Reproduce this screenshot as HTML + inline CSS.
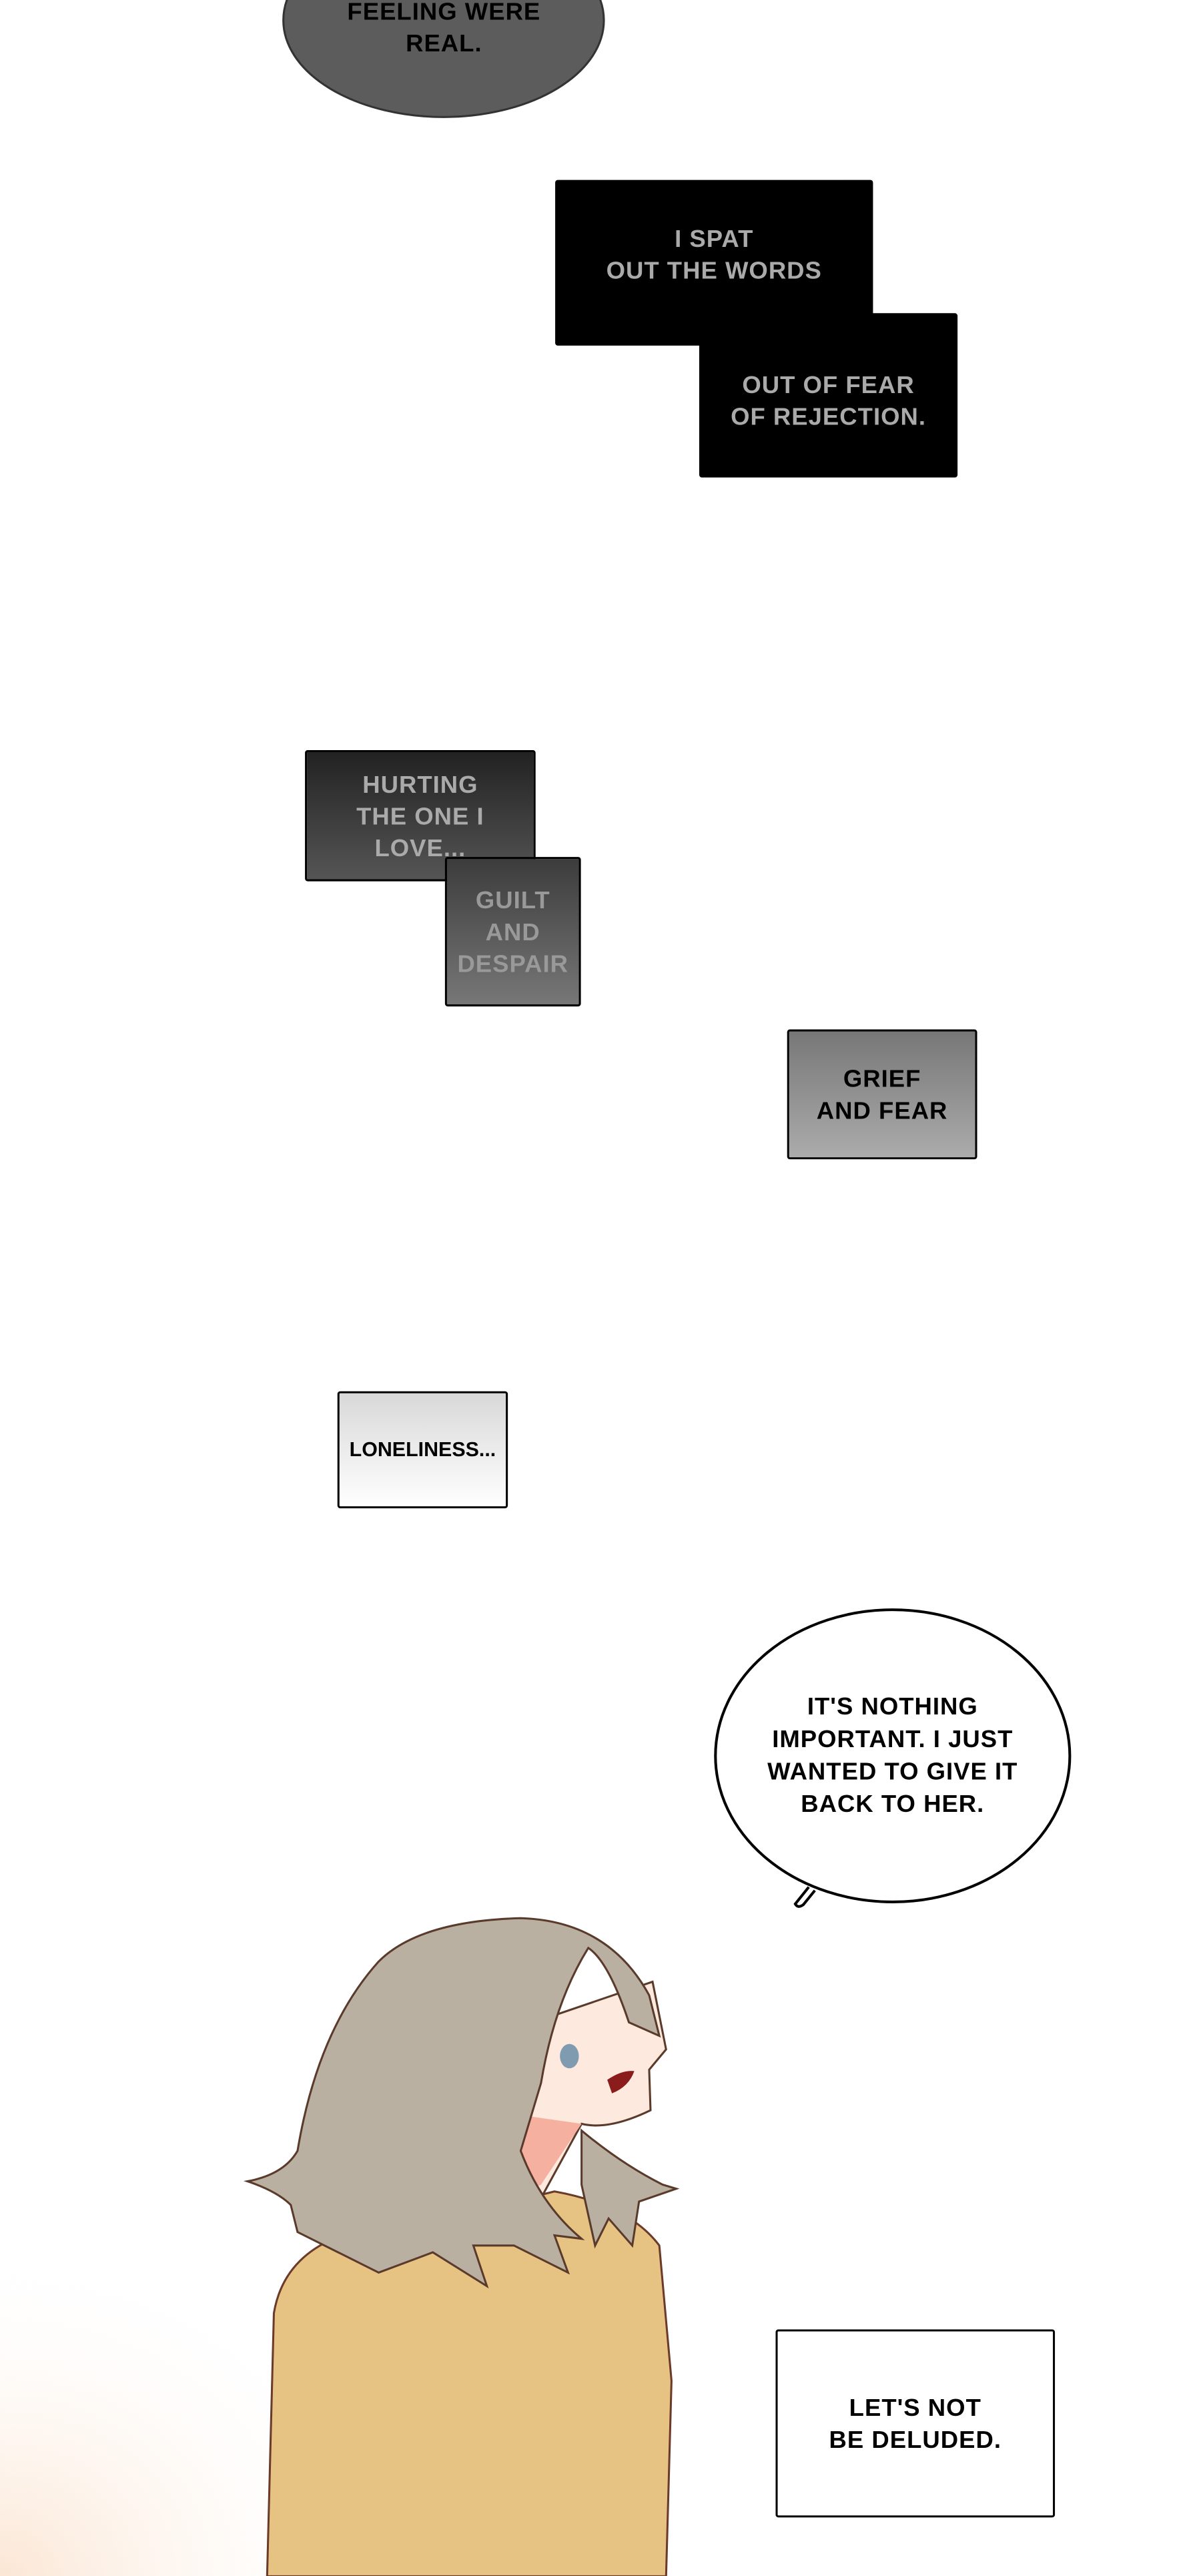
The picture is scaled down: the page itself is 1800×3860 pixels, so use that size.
<!DOCTYPE html>
<html><head><meta charset="utf-8"><style>
html,body{margin:0;padding:0}
body{width:1800px;height:3809px;position:relative;overflow:hidden;background:#fff;font-family:"Liberation Sans Narrow","Liberation Sans",sans-serif;font-weight:bold}
#w{position:absolute;left:0;top:0;width:1800px;height:3809px;transform:scale(1.0135);transform-origin:0 0}
.t{position:absolute;text-align:center;font-size:36px;line-height:47px;letter-spacing:1px;display:flex;align-items:center;justify-content:center;box-sizing:border-box}
.b{border:3px solid #000;border-radius:4px}
</style></head><body><div id="w">
<svg width="1800" height="3809" style="position:absolute;left:0;top:0">
<defs>
<radialGradient id="peach" cx="0" cy="1" r="1"><stop offset="0" stop-color="#fbe6d4"/><stop offset="1" stop-color="#fff" stop-opacity="0"/></radialGradient>
</defs>
<rect x="0" y="3300" width="600" height="509" fill="url(#peach)"/>
<ellipse cx="656" cy="30" rx="237" ry="143" fill="#5c5c5c" stroke="#333" stroke-width="3"/>
<ellipse cx="1320" cy="2596" rx="262" ry="216" fill="#fff" stroke="#000" stroke-width="4"/>
<path d="M1196,2790 L1176,2815 Q1180,2822 1188,2816 L1205,2795" fill="#fff" stroke="#000" stroke-width="4"/>
<!-- girl -->
<path d="M395,3809 L405,3420 Q420,3330 520,3300 L700,3270 L820,3240 Q930,3260 975,3320 L993,3520 L985,3809 Z" fill="#e6c383" stroke="#6b3a2a" stroke-width="3"/>
<path d="M760,3000 L965,2930 L985,3030 L960,3060 L962,3120 Q900,3150 860,3140 L800,3250 L740,3270 L700,3100 Z" fill="#fde9dd" stroke="#5a3a2a" stroke-width="3"/>
<path d="M720,3120 L860,3140 L800,3230 L740,3260 Z" fill="#f6b0a0"/>
<path d="M366,3225 Q420,3215 440,3180 Q470,3000 560,2900 Q620,2840 770,2836 Q900,2840 960,2950 L975,3010 L930,2990 Q900,2900 870,2880 Q820,2960 800,3080 L770,3180 Q800,3260 860,3310 L820,3305 L840,3360 L760,3320 L700,3320 L720,3380 L640,3330 L560,3360 L500,3330 L440,3300 L430,3260 Q410,3240 366,3225 Z" fill="#b9b0a2" stroke="#5a3a2a" stroke-width="3"/>
<path d="M860,3150 Q920,3200 980,3230 L1000,3236 L945,3255 L935,3320 L900,3280 L880,3320 L860,3230 Z" fill="#b9b0a2" stroke="#5a3a2a" stroke-width="3"/>
<ellipse cx="842" cy="3040" rx="14" ry="18" fill="#7f9bb0"/>
<path d="M898,3075 Q920,3060 938,3062 Q930,3085 905,3095 Z" fill="#8a1c1c"/>
</svg>
<div class="t" style="left:420px;top:-10px;width:473px;height:100px;color:#000">FEELING WERE<br>REAL.</div>
<div class="t" style="left:821px;top:266px;width:470px;height:245px;background:#000;border-radius:4px;color:#aaa;padding-bottom:25px">I SPAT<br>OUT THE WORDS</div>
<div class="t" style="left:1034px;top:463px;width:382px;height:243px;background:#000;border-radius:4px;color:#aaa;padding-top:15px">OUT OF FEAR<br>OF REJECTION.</div>
<div class="t b" style="left:451px;top:1109px;width:341px;height:194px;background:linear-gradient(#222,#555);color:#aaa">HURTING<br>THE ONE I<br>LOVE...</div>
<div class="t b" style="left:658px;top:1267px;width:201px;height:221px;background:linear-gradient(#3c3c3c,#777);color:#999">GUILT<br>AND<br>DESPAIR</div>
<div class="t b" style="left:1164px;top:1522px;width:281px;height:192px;background:linear-gradient(#777,#ababab);color:#000">GRIEF<br>AND FEAR</div>
<div class="t b" style="left:499px;top:2057px;width:252px;height:173px;background:linear-gradient(#d8d8d8,#fff);color:#000;font-size:30px;letter-spacing:0">LONELINESS...</div>
<div class="t" style="left:1080px;top:2480px;width:480px;height:230px;color:#000;line-height:48px">IT'S NOTHING<br>IMPORTANT. I JUST<br>WANTED TO GIVE IT<br>BACK TO HER.</div>
<div class="t b" style="left:1147px;top:3444px;width:413px;height:278px;background:#fff;color:#000">LET'S NOT<br>BE DELUDED.</div>
</div></body></html>
